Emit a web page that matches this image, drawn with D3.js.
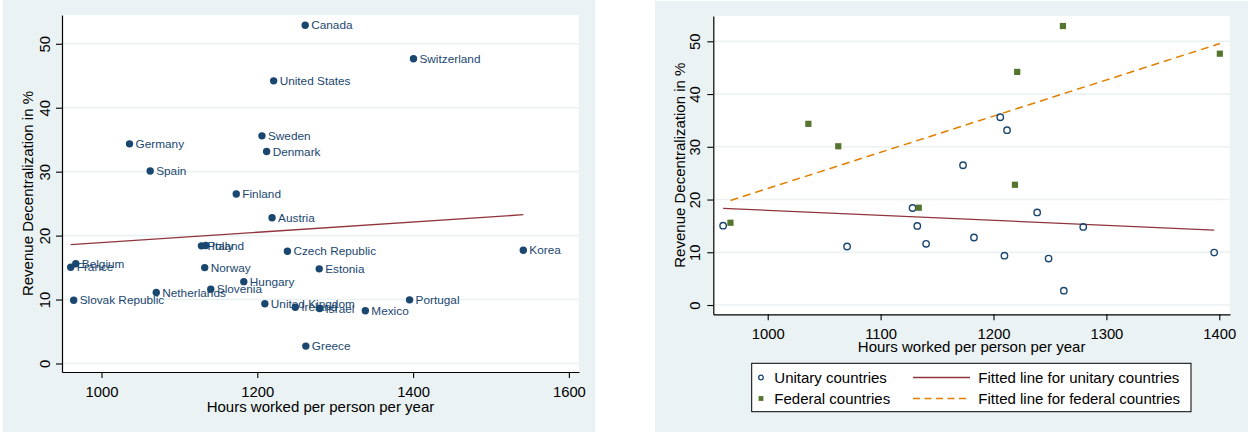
<!DOCTYPE html>
<html>
<head>
<meta charset="utf-8">
<script src="https://cdn.jsdelivr.net/npm/d3@7"></script>
<style>
  html, body { margin: 0; padding: 0; background: #ffffff; }
  svg { display: block; }
  text { font-family: "Liberation Sans", Arial, sans-serif; }
</style>
</head>
<body>
<script>
// Revenue decentralization vs. hours worked, OECD countries
const countries = ["Canada", "Switzerland", "United States", "Sweden", "Denmark", "Germany", "Spain",
  "Finland", "Austria", "Poland", "Italy", "Czech Republic", "Korea", "Belgium", "France", "Norway",
  "Estonia", "Hungary", "Slovenia", "Netherlands", "Slovak Republic", "United Kingdom", "Ireland",
  "Israel", "Mexico", "Portugal", "Greece"];
const hours = [1261.5, 1400.5, 1221, 1206, 1212, 1036, 1062.5,
  1173, 1219, 1128.3, 1133.8, 1238.7, 1541.5, 967, 960.5, 1132.5,
  1279.5, 1182.7, 1140.3, 1070.3, 964.3, 1209.7, 1248.8,
  1280, 1338.7, 1395.5, 1262.3];
const decentralization = [52.9, 47.65, 44.2, 35.6, 33.15, 34.35, 30.1,
  26.5, 22.8, 18.4, 18.45, 17.55, 17.7, 15.6, 15.05, 15.0,
  14.8, 12.8, 11.6, 11.1, 9.9, 9.35, 8.8,
  8.6, 8.25, 9.95, 2.72];
// U = unitary, F = federal, null = outside the unitary/federal comparison
const regime = ["F", "F", "F", "U", "U", "F", "F",
  "U", "F", "U", "F", "U", null, "F", "U", "U",
  "U", "U", "U", "U", null, "U", "U",
  null, null, "U", "U"];

const leftXTicks = [1000, 1200, 1400, 1600];
const rightXTicks = [1000, 1100, 1200, 1300, 1400];
const yTicks = [0, 10, 20, 30, 40, 50];
const xTitle = "Hours worked per person per year";
const yTitle = "Revenue Decentralization in %";
const legendLabels = ["Unitary countries", "Federal countries",
  "Fitted line for unitary countries", "Fitted line for federal countries"];

const rows = countries.map((c, i) => ({ name: c, x: hours[i], y: decentralization[i], regime: regime[i] }));

const C = {
  panel: "#eaf2f3",
  grid: "#eaf2f3",
  navy: "#1a476f",
  green: "#55752f",
  maroon: "#90353b",
  orange: "#e37e00",
  axis: "#000000"
};

// ordinary least squares fit, returned as its two end points over the data range
function olsLine(pts) {
  const n = pts.length;
  const mx = d3.mean(pts, d => d.x), my = d3.mean(pts, d => d.y);
  let sxy = 0, sxx = 0;
  pts.forEach(d => { sxy += (d.x - mx) * (d.y - my); sxx += (d.x - mx) * (d.x - mx); });
  const b = sxy / sxx, a = my - b * mx;
  const [x0, x1] = d3.extent(pts, d => d.x);
  return [{ x: x0, y: a + b * x0 }, { x: x1, y: a + b * x1 }];
}

const svg = d3.select("body").append("svg").attr("width", 1248).attr("height", 432);

function panel(opt) {
  const g = svg.append("g");
  g.append("rect").attr("x", opt.bg[0]).attr("y", opt.bg[1]).attr("width", opt.bg[2]).attr("height", opt.bg[3])
    .attr("fill", C.panel);

  const x = d3.scaleLinear().domain(opt.xDomain).range([opt.left, opt.right]);
  const y = d3.scaleLinear().domain(opt.yDomain).range([opt.bottom, opt.top]);

  g.append("rect").attr("x", opt.left).attr("y", opt.top)
    .attr("width", opt.right - opt.left).attr("height", opt.bottom - opt.top).attr("fill", "#ffffff");

  // horizontal grid
  g.append("g").selectAll("line").data(yTicks).join("line")
    .attr("x1", opt.left).attr("x2", opt.right)
    .attr("y1", d => y(d)).attr("y2", d => y(d))
    .attr("stroke", C.grid).attr("stroke-width", 1.6);

  // axes
  const ax = g.append("g").attr("transform", `translate(0,${opt.bottom})`)
    .call(d3.axisBottom(x).tickValues(opt.xTicks).tickSize(6).tickSizeOuter(0).tickPadding(8).tickFormat(d3.format("d")));
  const ay = g.append("g").attr("transform", `translate(${opt.left},0)`)
    .call(d3.axisLeft(y).tickValues(yTicks).tickSize(6).tickSizeOuter(0).tickFormat(d3.format("d")));
  [ax, ay].forEach(a => {
    a.select(".domain").attr("stroke", C.axis).attr("stroke-width", 1.2);
    a.selectAll(".tick line").attr("stroke", C.axis).attr("stroke-width", 1.1);
    a.selectAll(".tick text").attr("fill", "#000").style("font-size", "14.8px");
  });
  ay.selectAll(".tick text")
    .attr("transform", "rotate(-90)")
    .attr("x", 0).attr("y", -opt.yLabelOffset).attr("dy", "0.35em")
    .attr("text-anchor", "middle");

  g.append("text").attr("x", (opt.left + opt.right) / 2).attr("y", opt.xTitleY)
    .attr("text-anchor", "middle").style("font-size", "15px").attr("fill", "#000").text(xTitle);
  g.append("text").attr("transform", `translate(${opt.yTitleX},${(opt.top + opt.bottom) / 2}) rotate(-90)`)
    .attr("text-anchor", "middle").style("font-size", "15px").attr("fill", "#000").text(yTitle);

  return { g, x, y };
}

// ---- left panel: all countries, labelled ----
{
  const { g, x, y } = panel({
    bg: [3, 0, 592, 432],
    left: 62, right: 579, top: 15, bottom: 372,
    xDomain: [949.3, 1613], yDomain: [-1.33, 54.5],
    xTicks: leftXTicks, yLabelOffset: 17, xTitleY: 411.5, yTitleX: 33.3
  });
  const fit = olsLine(rows);
  g.append("line")
    .attr("x1", x(fit[0].x)).attr("y1", y(fit[0].y)).attr("x2", x(fit[1].x)).attr("y2", y(fit[1].y))
    .attr("stroke", C.maroon).attr("stroke-width", 1.3);
  g.append("g").selectAll("circle").data(rows).join("circle")
    .attr("cx", d => x(d.x)).attr("cy", d => y(d.y)).attr("r", 3.7).attr("fill", C.navy);
  g.append("g").selectAll("text").data(rows).join("text")
    .attr("x", d => x(d.x) + 6).attr("y", d => y(d.y)).attr("dy", "0.35em")
    .style("font-size", "11.8px").attr("fill", C.navy).text(d => d.name);
}

// ---- right panel: unitary vs federal with fitted lines ----
{
  const { g, x, y } = panel({
    bg: [655, 1, 593, 431],
    left: 713.3, right: 1230, top: 16, bottom: 314.3,
    xDomain: [951.8, 1409.5], yDomain: [-1.76, 54.8],
    xTicks: rightXTicks, yLabelOffset: 18.3, xTitleY: 352, yTitleX: 685
  });
  const unitary = rows.filter(d => d.regime === "U");
  const federal = rows.filter(d => d.regime === "F");
  const fu = olsLine(unitary), ff = olsLine(federal);

  g.append("line")
    .attr("x1", x(fu[0].x)).attr("y1", y(fu[0].y)).attr("x2", x(fu[1].x)).attr("y2", y(fu[1].y))
    .attr("stroke", C.maroon).attr("stroke-width", 1.3);
  g.append("line")
    .attr("x1", x(ff[0].x)).attr("y1", y(ff[0].y)).attr("x2", x(ff[1].x)).attr("y2", y(ff[1].y))
    .attr("stroke", C.orange).attr("stroke-width", 1.5).attr("stroke-dasharray", "8,5");

  g.append("g").selectAll("circle").data(unitary).join("circle")
    .attr("cx", d => x(d.x)).attr("cy", d => y(d.y)).attr("r", 3.2)
    .attr("fill", "none").attr("stroke", C.navy).attr("stroke-width", 1.4);
  g.append("g").selectAll("rect").data(federal).join("rect")
    .attr("x", d => x(d.x) - 3.1).attr("y", d => y(d.y) - 3.1).attr("width", 6.2).attr("height", 6.2)
    .attr("fill", C.green);

  // legend
  const lg = g.append("g");
  lg.append("rect").attr("x", 751.7).attr("y", 363.3).attr("width", 439.3).attr("height", 48.4)
    .attr("fill", "#fff").attr("stroke", "#000").attr("stroke-width", 1);
  const r1 = 377.5, r2 = 398.5;
  lg.append("circle").attr("cx", 761).attr("cy", r1).attr("r", 2.3)
    .attr("fill", "none").attr("stroke", C.navy).attr("stroke-width", 1.3);
  lg.append("rect").attr("x", 758.6).attr("y", r2 - 2.4).attr("width", 4.8).attr("height", 4.8).attr("fill", C.green);
  lg.append("line").attr("x1", 913).attr("x2", 970).attr("y1", r1).attr("y2", r1)
    .attr("stroke", C.maroon).attr("stroke-width", 1.3);
  lg.append("line").attr("x1", 913).attr("x2", 970).attr("y1", r2).attr("y2", r2)
    .attr("stroke", C.orange).attr("stroke-width", 1.5).attr("stroke-dasharray", "7,4.5");
  const lpos = [[774.3, r1], [774.3, r2], [978.3, r1], [978.3, r2]];
  lg.selectAll("text.lab").data(legendLabels).join("text").attr("class", "lab")
    .attr("x", (d, i) => lpos[i][0]).attr("y", (d, i) => lpos[i][1]).attr("dy", "0.35em")
    .style("font-size", "15px").attr("fill", "#000").text(d => d);
}
</script>
</body>
</html>
